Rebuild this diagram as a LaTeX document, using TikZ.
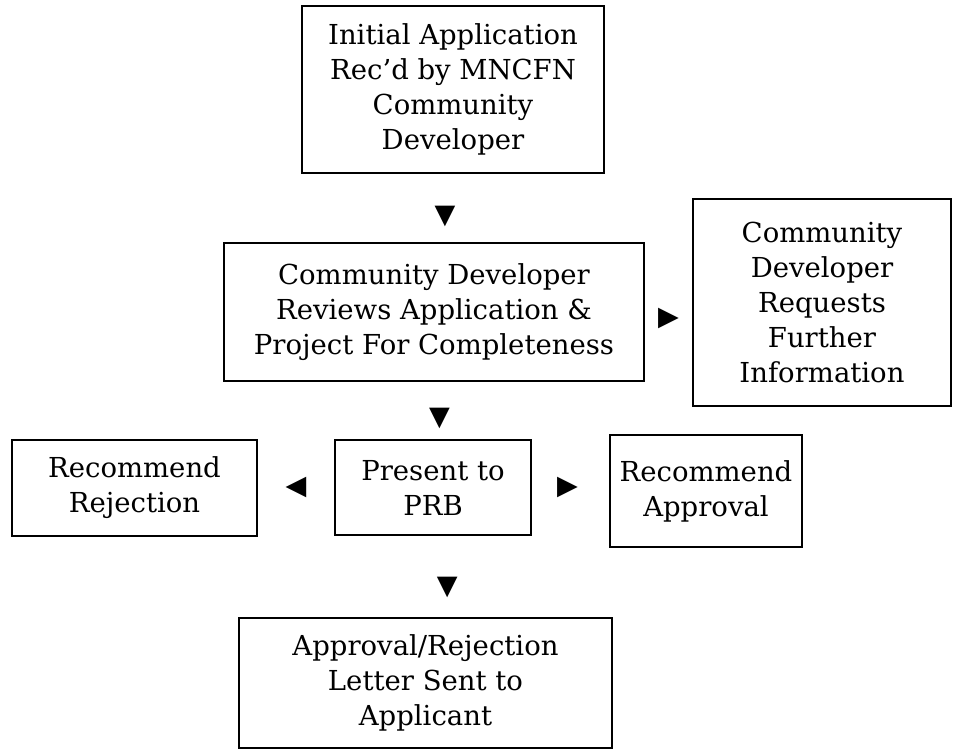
\documentclass[tikz,border=0pt]{standalone}
\usepackage{fontspec}
\setmainfont{DejaVu Serif}
\newfontfamily\symfont{DejaVu Sans}
\usetikzlibrary{positioning}

\begin{document}
\begin{tikzpicture}[
    x=1pt, y=-1pt,
    box node/.style={rectangle,draw,line width=2pt,align=center,inner sep=0pt,
        font=\fontsize{27.5}{35}\selectfont},
    tri node/.style={inner sep=0pt,font=\symfont\fontsize{27}{27}\selectfont}
]
\useasboundingbox (0,0) rectangle (954,750);

% Application
\node[box node, minimum width=302pt, minimum height=167pt] (init) at (453,89.5)
    {Initial Application\\Rec'd by MNCFN\\Community\\Developer};

% Review
\node[box node, minimum width=420pt, minimum height=138pt] (review) at (434,312)
    {Community Developer\\Reviews Application \&\\Project For Completeness};
\node[box node, minimum width=258pt, minimum height=207pt] (request) at (822,302.5)
    {Community\\Developer\\Requests\\Further\\Information};

% PRB
\node[box node, minimum width=245pt, minimum height=96pt] (reject) at (134.5,488)
    {Recommend\\Rejection};
\node[box node, minimum width=196pt, minimum height=95pt] (present) at (433,487.5)
    {Present to\\PRB};
\node[box node, minimum width=192pt, minimum height=112pt] (approve) at (706,491)
    {Recommend\\Approval};

% Letter
\node[box node, minimum width=373pt, minimum height=130pt] (letter) at (425.5,683)
    {Approval/Rejection\\Letter Sent to\\Applicant};

% Arrows
\path (init.south) -- node[tri node, pos=0.63, xshift=4pt] {▼} (review.north);
\path (review.east) -- node[tri node, yshift=-6pt] {▶} (review.east -| request.west);
\path (review.south) -- node[tri node, xshift=6pt, yshift=-8pt] {▼} (present.north);
\path (present.west) -- node[tri node] {◀} (present.west -| reject.east);
\path (present.east) -- node[tri node, xshift=-3pt] {▶} (present.east -| approve.west);
\path (present.south) -- node[tri node, xshift=18pt, yshift=-11pt] {▼} (letter.north);

\end{tikzpicture}
\end{document}
